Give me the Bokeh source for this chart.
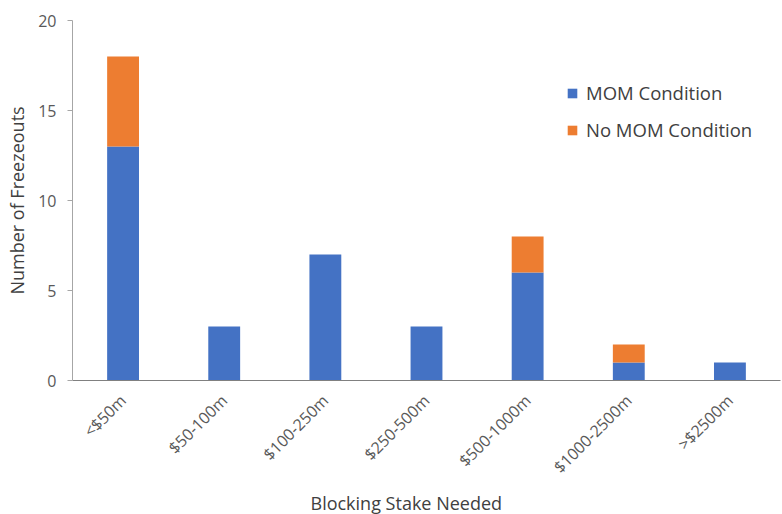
import math
from bokeh.plotting import figure
from bokeh.models import FactorRange, Range1d, ColumnDataSource, Legend, FixedTicker, Title
from bokeh.embed import file_html
from bokeh.resources import INLINE

categories = ["<$50m", "$50-100m", "$100-250m", "$250-500m", "$500-1000m", "$1000-2500m", ">$2500m"]
mom = [13, 3, 7, 3, 6, 1, 1]
no_mom = [5, 0, 0, 0, 2, 1, 0]
y_ticks = [0, 5, 10, 15, 20]

FONT = "Open Sans"
TEXT = "#404040"
TICK = "#595959"

src = ColumnDataSource(dict(cat=categories, mom=mom, no_mom=no_mom))

p = figure(
    width=782, height=514,
    x_range=FactorRange(*categories, range_padding=0),
    y_range=Range1d(0, 20),
    output_backend="svg", toolbar_location=None,
    min_border_left=72, min_border_right=2, min_border_top=20, min_border_bottom=134,
)
p.outline_line_color = None
p.xgrid.grid_line_color = None
p.ygrid.grid_line_color = None

r = p.vbar_stack(["mom", "no_mom"], x="cat", width=0.315, source=src,
                 color=["#4472C4", "#ED7D31"], line_color=None)

legend = Legend(items=[("MOM Condition", [r[0]]), ("No MOM Condition", [r[1]])],
                location=(494, 238))
legend.border_line_color = None
legend.background_fill_alpha = 0
legend.label_text_font = FONT
legend.label_text_font_size = "18.5px"
legend.label_text_color = TEXT
legend.glyph_width = 12
legend.glyph_height = 12
legend.spacing = 12
legend.label_standoff = 8
p.add_layout(legend, "center")

p.yaxis.ticker = FixedTicker(ticks=y_ticks)
p.yaxis.axis_line_color = "#a6a6a6"
p.yaxis.major_tick_line_color = "#a6a6a6"
p.yaxis.major_tick_out = 5
p.yaxis.major_tick_in = 0
p.yaxis.minor_tick_line_color = None
p.yaxis.major_label_text_font = FONT
p.yaxis.major_label_text_font_size = "16px"
p.yaxis.major_label_text_color = TICK
p.yaxis.major_label_standoff = 11
p.yaxis.axis_label = "Number of Freezeouts"
p.yaxis.axis_label_text_font = FONT
p.yaxis.axis_label_text_font_size = "18px"
p.yaxis.axis_label_text_font_style = "normal"
p.yaxis.axis_label_text_color = TEXT
p.yaxis.axis_label_standoff = 6

p.xaxis.axis_line_color = "#808080"
p.xaxis.major_tick_line_color = None
p.xaxis.minor_tick_line_color = None
p.xaxis.major_label_orientation = math.pi / 4
p.xaxis.major_label_text_font = FONT
p.xaxis.major_label_text_font_size = "16px"
p.xaxis.major_label_text_color = TICK
p.xaxis.major_label_standoff = 11

xtitle = Title(text="Blocking Stake Needed", align="left", offset=238,
               text_font=FONT, text_font_size="18px", text_color=TEXT,
               text_font_style="normal", standoff=0)
p.add_layout(xtitle, "below")

open("out.html", "w").write(file_html(p, INLINE))
